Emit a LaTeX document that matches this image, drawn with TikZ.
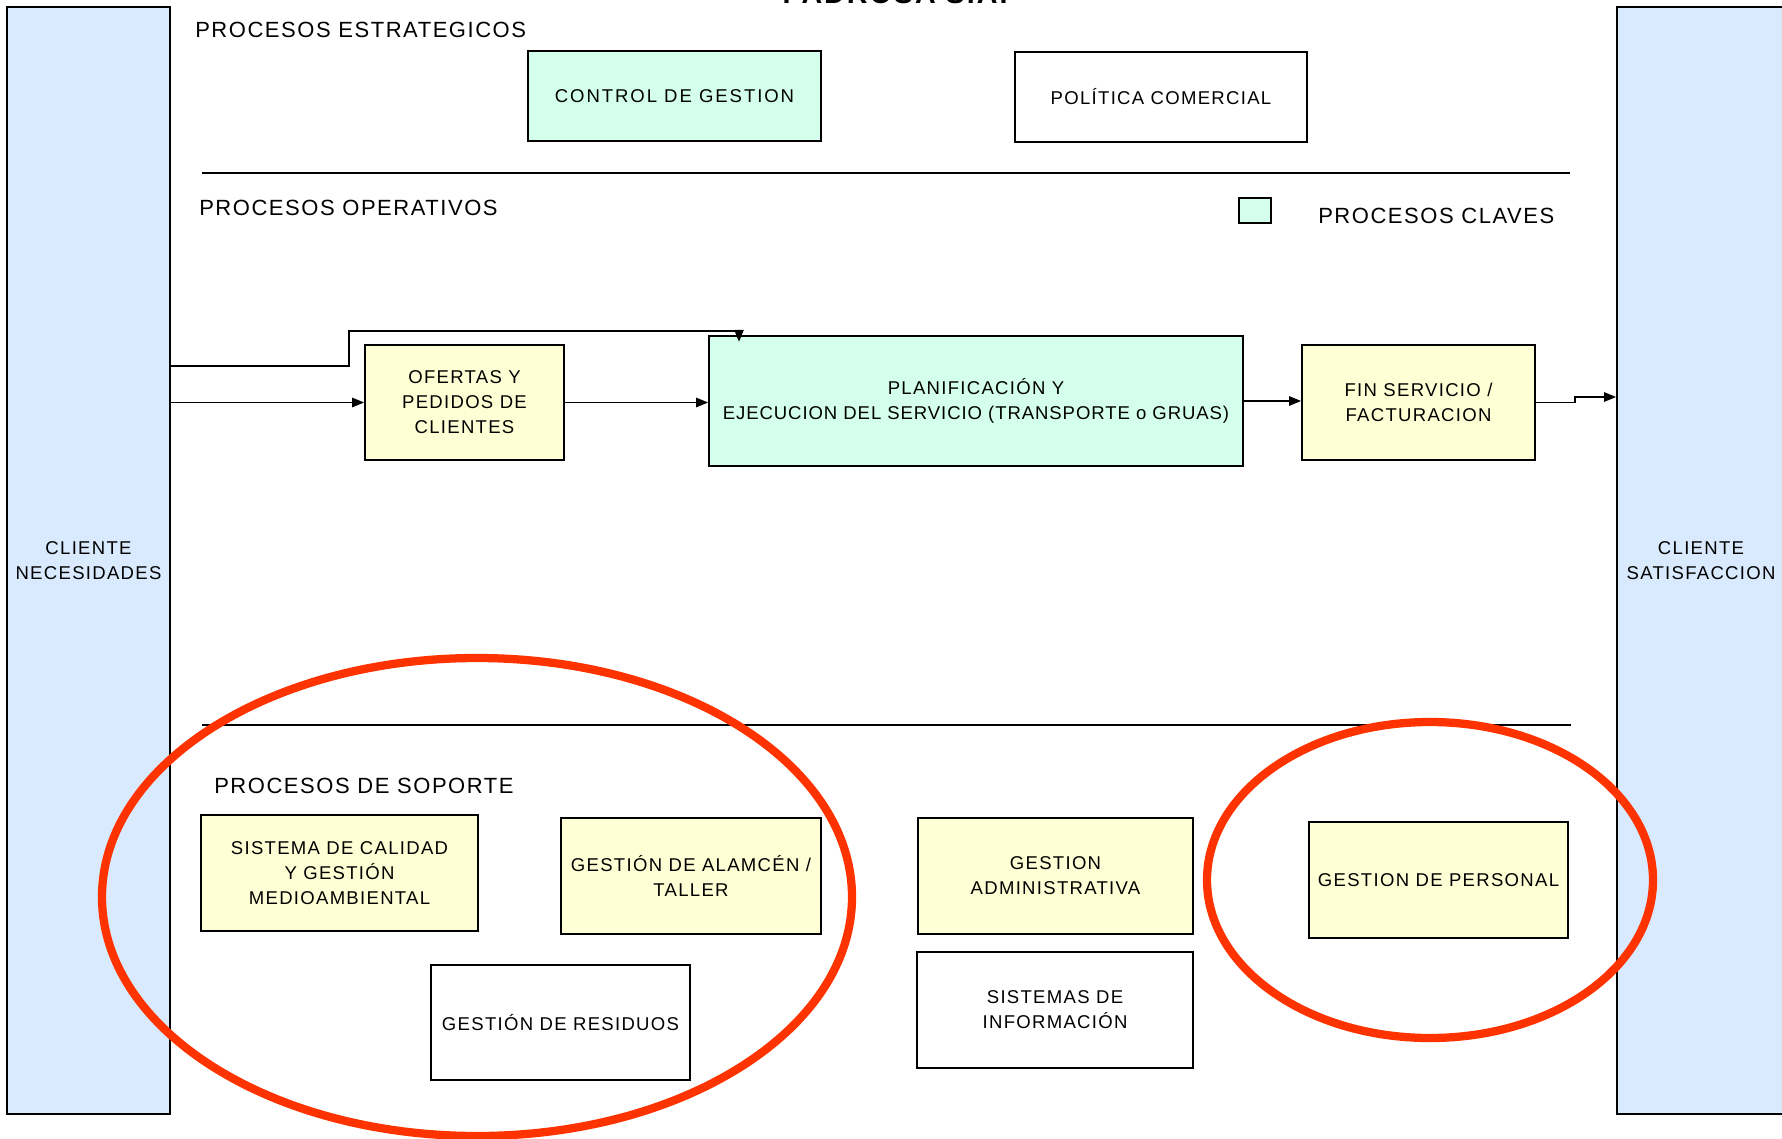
\documentclass[tikz,border=0pt]{standalone}
\usepackage{fontspec}
\setmainfont{Liberation Sans}[LetterSpace=7]
\newfontfamily\tightfont{Liberation Sans}[LetterSpace=5]
\newfontfamily\widefont{Liberation Sans}[LetterSpace=10.5]
\usetikzlibrary{arrows.meta}
\definecolor{colblue}{RGB}{217,234,254}
\definecolor{keymint}{RGB}{211,255,236}
\definecolor{suppyellow}{RGB}{255,255,213}
\definecolor{ringred}{RGB}{255,51,0}
\newcommand{\bxfont}{\fontsize{13.9pt}{18.75pt}\selectfont}
\newcommand{\hdfont}{\fontsize{16.5pt}{19pt}\selectfont}
\begin{document}
\begin{tikzpicture}[x=0.75pt,y=-0.75pt,
  box/.style={draw=black, line width=1.3pt, inner sep=0pt, align=center, font=\bxfont},
  sz/.style 2 args={minimum width=#1*0.75pt, minimum height=#2*0.75pt},
  keybox/.style={box, fill=keymint},
  suppbox/.style={box, fill=suppyellow},
  plainbox/.style={box, fill=white},
  colbox/.style={box, fill=colblue},
  hd/.style={inner sep=0pt, anchor=west, font=\hdfont},
  sepline/.style={draw=black, line width=1.3pt},
  conn/.style={draw=black, line width=1.3pt, -{Triangle[length=9pt,width=7pt]}},
  ring/.style={draw=ringred, line width=6.2pt}]
\useasboundingbox (0,0) rectangle (1782,1139);

% client columns
\node[colbox, sz={163}{1107}] (lc) at (88.5,560.5) {CLIENTE\\NECESIDADES};
\node[colbox, sz={168}{1107}] (rc) at (1701,560.5) {CLIENTE\\SATISFACCION};

% title (cut by the top edge)
\node[anchor=base, inner sep=0pt, font=\bfseries\fontsize{21.5pt}{24pt}\selectfont] (title) at (895,3) {PADROSA S.A.};

% headings
\node[hd] (hstrat) at (195,30) {PROCESOS ESTRATEGICOS};
\node[hd] (hoper) at (199,208) {PROCESOS OPERATIVOS};
\node[hd] (hclave) at (1318,216) {PROCESOS CLAVES};
\node[hd] (hsop) at (214,786) {PROCESOS DE SOPORTE};

% strategic
\node[keybox, sz={293}{90}] (cg) at (674.5,96) {\widefont CONTROL DE GESTION};
\node[plainbox, sz={292}{90}] (pc) at (1161,97) {POLÍTICA COMERCIAL};

\draw[sepline] (202,173) -- (1570,173);
\draw[sepline] (202,725) -- (1571,725);

% legend
\node[keybox, line width=0.9pt, sz={32}{25}] (legend) at (1255,210.5) {};

% operative
\node[suppbox, sz={199}{115}] (of) at (464.5,402.5) {OFERTAS Y\\PEDIDOS DE\\CLIENTES};
\node[keybox, sz={534}{130}] (plan) at (976,401) {PLANIFICACIÓN Y\\{\tightfont EJECUCION DEL SERVICIO (TRANSPORTE o GRUAS)}};
\node[suppbox, sz={233}{115}] (fin) at (1418.5,402.5) {FIN SERVICIO /\\FACTURACION};

% support
\node[suppbox, sz={277}{116}] (sc) at (339.5,873) {SISTEMA DE CALIDAD\\Y GESTIÓN\\MEDIOAMBIENTAL};
\node[suppbox, sz={260}{116}] (ga) at (691,876) {GESTIÓN DE ALAMCÉN /\\TALLER};
\node[plainbox, sz={259}{115}] (gr) at (560.5,1022.5) {GESTIÓN DE RESIDUOS};
\node[suppbox, sz={275}{116}] (gad) at (1055.5,876) {GESTION\\ADMINISTRATIVA};
\node[plainbox, sz={276}{116}] (si) at (1055,1010) {SISTEMAS DE\\INFORMACIÓN};
\node[suppbox, sz={259}{116}] (gp) at (1438.5,880) {GESTION DE PERSONAL};

% connectors
\coordinate (j1) at (349,366);
\coordinate (j2) at (739,331);
\coordinate (j3) at (1575,397);
\draw[conn] (lc.east |- j1) -| (j1 |- j2) -| ([yshift=-5pt]plan.north -| j2);
\draw[conn] (lc.east |- of.west) -- (of.west);
\draw[conn] (of.east) -- (of.east -| plan.west);
\draw[conn] (plan.east) -- (plan.east -| fin.west);
\draw[conn] (fin.east) -| (j3) -- (j3 -| rc.west);

% red rings
\draw[ring] (477,897) ellipse [x radius=281.25pt, y radius=179.25pt];
\draw[ring] (1430,880) ellipse [x radius=167.25pt, y radius=118.5pt];
\end{tikzpicture}
\end{document}
